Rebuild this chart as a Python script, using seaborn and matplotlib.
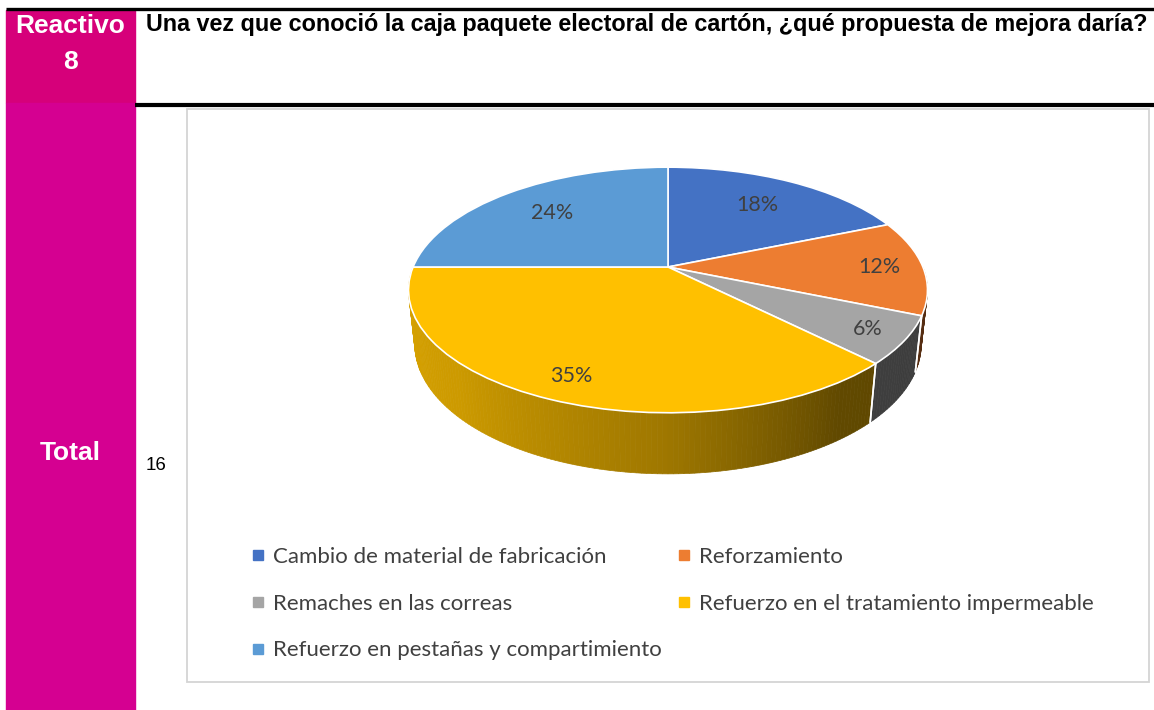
import numpy as np
import matplotlib
matplotlib.use("Agg")
import matplotlib.pyplot as plt
import matplotlib.transforms as mtransforms
from matplotlib.lines import Line2D
from matplotlib.patches import Rectangle
import seaborn as sns

sns.set_theme(style="white")

# data
categories = [
    "Cambio de material de fabricación",
    "Reforzamiento",
    "Remaches en las correas",
    "Refuerzo en el tratamiento impermeable",
    "Refuerzo en pestañas y compartimiento",
]
counts = [3, 2, 1, 6, 4]
pct_labels = ["18%", "12%", "6%", "35%", "24%"]
total = 16
colors = sns.color_palette(["#4472C4", "#ED7D31", "#A5A5A5", "#FFC000", "#5B9BD5"])

question = "Una vez que conoció la caja paquete electoral de cartón, ¿qué propuesta de mejora daría?"
item_label = ["Reactivo", "8"]

# perspective view of the 3D pie (pixel space)
CX, CY = 668, 267
F, D = 1207.0, 4.735
SA, CA = np.sin(np.deg2rad(27.7)), np.cos(np.deg2rad(27.7))
DEPTH = 0.242


def project(u, v, h=0.0):
    yc = v * SA + h * CA
    zc = D + v * CA - h * SA
    return CX + F * u / zc, CY - F * yc / zc


class Persp(mtransforms.Transform):
    input_dims = 2
    output_dims = 2
    is_separable = False

    def transform_non_affine(self, xy):
        xy = np.asarray(xy, dtype=float)
        sx, sy = project(xy[:, 0], xy[:, 1])
        return np.column_stack([sx, sy])


fig = plt.figure(figsize=(11.54, 7.10), dpi=100)
ax = fig.add_axes([0, 0, 1, 1])

wedges, texts = ax.pie(counts, colors=colors, startangle=90, counterclock=False,
                       labels=pct_labels, labeldistance=0.7,
                       wedgeprops=dict(edgecolor="white", linewidth=1.2))
ax.set_aspect("auto")
ax.set_xlim(0, 1154)
ax.set_ylim(710, 0)
ax.axis("off")

persp = Persp() + ax.transData
for w in wedges:
    w.set_transform(persp)
    w.set_zorder(2)

# data labels
label_r = [0.7, 0.83, 0.86, 0.85, 0.7]
for txt, w, r in zip(texts, wedges, label_r):
    mid = np.deg2rad((w.theta1 + w.theta2) / 2)
    txt.set_position((r * np.cos(mid), r * np.sin(mid)))
    txt.set_transform(persp)
    txt.set(ha="center", va="center", color="#404040", fontsize=15.5, family="Lato", zorder=3)

# side of the cylinder (front half only)
def shade(a):
    return np.interp(a, [-180, -135, -90, -55, 0], [0.86, 0.8, 0.62, 0.38, 0.36])

for w, col in zip(wedges, colors):
    for k in (-1, 0, 1):
        lo = max(w.theta1, -180 + 360 * k)
        hi = min(w.theta2, 360 * k)
        if hi <= lo:
            continue
        n = max(2, int(hi - lo))
        angs = np.linspace(lo, hi, n + 1)
        for a0, a1 in zip(angs[:-1], angs[1:]):
            t = np.deg2rad([a0, a1])
            xt, yt = project(np.cos(t), np.sin(t), 0.0)
            xb, yb = project(np.cos(t), np.sin(t), -DEPTH)
            f = shade((a0 + a1) / 2 - 360 * k)
            c = tuple(np.array(col) * f)
            ax.fill(np.r_[xt, xb[::-1]], np.r_[yt, yb[::-1]], color=c,
                    lw=0.5, edgecolor=c, zorder=1)

# white seams between side pieces
for w in wedges:
    for a in (w.theta1, w.theta2):
        an = (a + 180) % 360 - 180
        if -179 < an < -1:
            r = np.deg2rad(an)
            x0, y0 = project(np.cos(r), np.sin(r), 0.0)
            x1, y1 = project(np.cos(r), np.sin(r), -DEPTH)
            ax.plot([x0, x1], [y0, y1], color="white", lw=1.2, zorder=1.5)

# legend
order = [0, 2, 4, 1, 3]
handles = [Line2D([], [], marker="s", ls="", color=colors[i], markersize=6.5) for i in order]
ax.legend(handles, [categories[i] for i in order], ncol=2, frameon=False,
          loc="upper left", bbox_to_anchor=(252, 547), bbox_transform=ax.transData,
          borderpad=0, borderaxespad=0, handlelength=0.55, handletextpad=0.4,
          labelspacing=1.2, columnspacing=0.72,
          prop=dict(family="Lato", size=16.0), labelcolor="#404040")

# table frame around the chart
ax.add_patch(Rectangle((6, 10), 129, 93, color="#D6007A", zorder=0))
ax.add_patch(Rectangle((6, 103), 129, 607, color="#D50091", zorder=0))
ax.plot([6, 1154], [8.5, 8.5], color="black", lw=2.4, solid_capstyle="butt")
ax.plot([135, 1154], [105, 105], color="black", lw=3.0, solid_capstyle="butt")
ax.add_patch(Rectangle((187, 109), 962, 573, fill=False, edgecolor="#D4D4D4", lw=1.3, zorder=0))

for txt, y in zip(item_label, [26, 62]):
    ax.text(70, y, txt, ha="center", va="center", color="white", fontsize=19,
            fontweight="bold", family="Liberation Sans")
ax.text(146, 25, question, ha="left", va="center", color="black", fontsize=16.8,
        fontweight="bold", family="Liberation Sans")
ax.text(70, 453, "Total", ha="center", va="center", color="white", fontsize=19,
        fontweight="bold", family="Liberation Sans")
ax.text(146, 466, str(total), ha="left", va="center", color="black", fontsize=13.5,
        family="Liberation Sans")

fig.savefig("out.png", dpi=100)
